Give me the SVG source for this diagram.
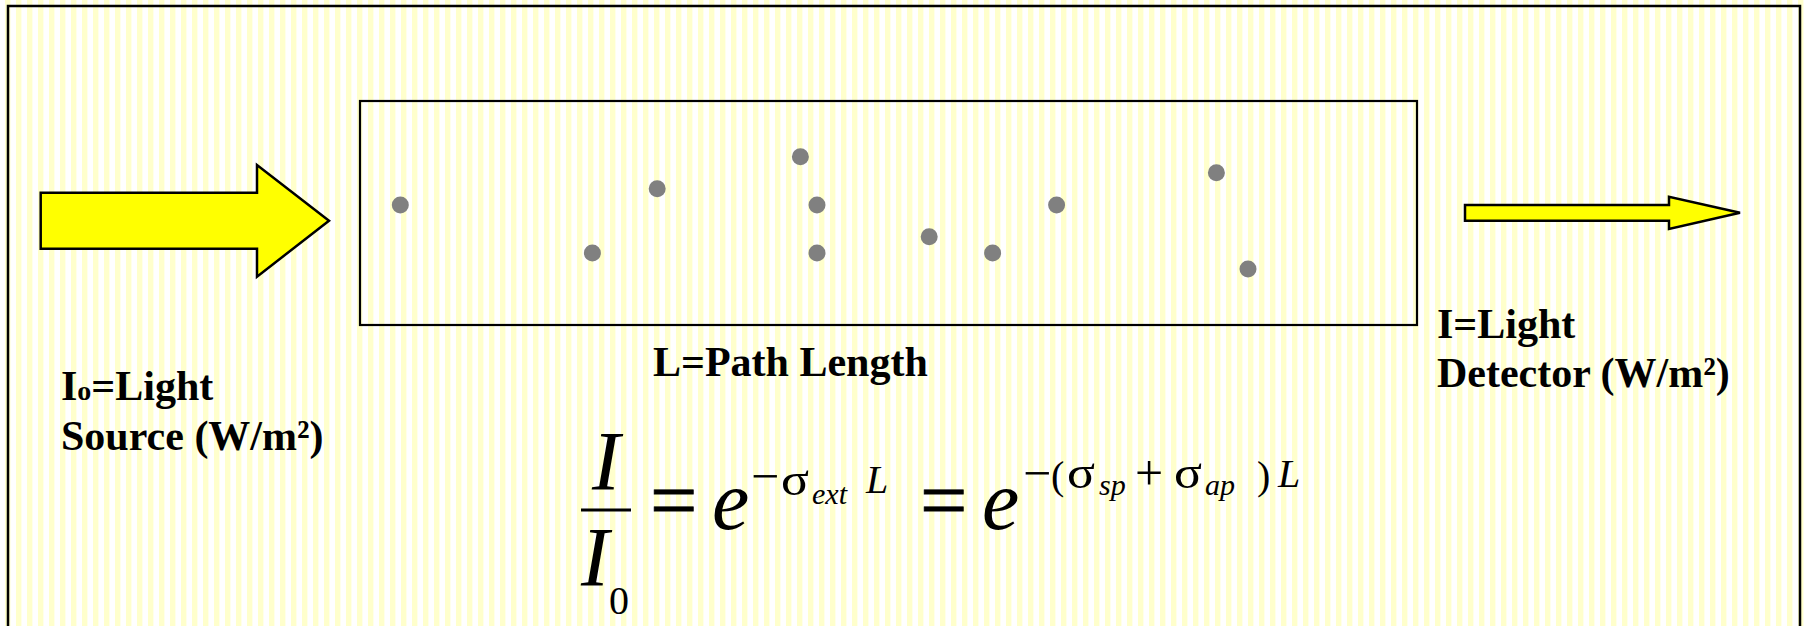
<svg xmlns="http://www.w3.org/2000/svg" width="1804" height="626" viewBox="0 0 1804 626">
<style>
.lbl{font-weight:bold;font-size:42px;fill:#000}
.m{fill:#000}
.it{font-style:italic}
.big{font-size:84px}
.eq{stroke:#000;stroke-width:0.8}
.sup{font-size:40px}
.minus{font-size:50px}
.sig{font-size:46px}
.sub{font-size:30px}
.arrow{fill:#FFFF00;stroke:#000;stroke-width:2.5;stroke-linejoin:miter}
.dot{fill:#808080}
</style>
<defs>
<pattern id="stripes" x="5" y="0" width="11" height="10" patternUnits="userSpaceOnUse">
<rect x="0" y="0" width="5.4" height="10" fill="#FFFFCC"/>
</pattern>
</defs>
<rect x="0" y="0" width="1804" height="626" fill="#FFFFFF"/>
<rect x="0" y="0" width="1804" height="626" fill="url(#stripes)"/>
<rect id="frame" x="8" y="6" width="1792" height="640" fill="none" stroke="#000" stroke-width="2.5"/>
<g id="connectors">
<polygon class="arrow" points="40.7,192.7 257,192.7 257,165 329,220.7 257,276.7 257,248.7 40.7,248.7"/>
<polygon class="arrow" points="1465,205 1669,205 1669,196.7 1740,212.7 1669,229 1669,220.7 1465,220.7"/>
</g>
<g font-family="Liberation Serif, Times New Roman, serif">
<g id="cell">
<rect x="360" y="101" width="1057" height="224" fill="none" stroke="#000" stroke-width="2.2"/>
<circle class="dot" cx="400.3" cy="205" r="8.5"/>
<circle class="dot" cx="592.4" cy="253" r="8.5"/>
<circle class="dot" cx="657.2" cy="188.7" r="8.5"/>
<circle class="dot" cx="800.4" cy="156.7" r="8.5"/>
<circle class="dot" cx="817" cy="205" r="8.5"/>
<circle class="dot" cx="817" cy="253" r="8.5"/>
<circle class="dot" cx="929.2" cy="236.7" r="8.5"/>
<circle class="dot" cx="992.6" cy="253" r="8.5"/>
<circle class="dot" cx="1056.6" cy="205" r="8.5"/>
<circle class="dot" cx="1216.4" cy="172.7" r="8.5"/>
<circle class="dot" cx="1248" cy="269" r="8.5"/>
<text class="lbl" x="653" y="376">L=Path Length</text>
</g>
<g id="source">
<text class="lbl" x="61" y="400">I<tspan font-size="28">o</tspan>=Light</text>
<text class="lbl" x="61" y="450">Source (W/m²)</text>
</g>
<g id="detector">
<text class="lbl" x="1437" y="338">I=Light</text>
<text class="lbl" x="1437" y="387">Detector (W/m²)</text>
</g>
<g id="equation">
<text class="m it big" x="592" y="490">I</text>
<line x1="581" y1="510" x2="631" y2="510" stroke="#000" stroke-width="3"/>
<text class="m it big" x="581" y="586">I</text>
<text class="m sup" x="609" y="614">0</text>
<text class="m big eq" x="650" y="529">=</text>
<text class="m it big" x="712" y="529">e</text>
<text class="m minus" x="751" y="492.5">−</text>
<text class="m sig" x="781" y="495" textLength="28" lengthAdjust="spacingAndGlyphs">σ</text>
<text class="m it sub" x="812" y="504">ext</text>
<text class="m it sup" x="866" y="493">L</text>
<text class="m big eq" x="920" y="529">=</text>
<text class="m it big" x="982" y="529">e</text>
<text class="m minus" x="1023" y="489.5">−</text>
<text class="m sup" x="1051" y="489">(</text>
<text class="m sig" x="1067" y="488" textLength="28" lengthAdjust="spacingAndGlyphs">σ</text>
<text class="m it sub" x="1099" y="495">sp</text>
<text class="m" font-size="50" x="1135" y="490">+</text>
<text class="m sig" x="1174" y="488" textLength="28" lengthAdjust="spacingAndGlyphs">σ</text>
<text class="m it sub" x="1205" y="495">ap</text>
<text class="m sup" x="1257" y="489">)</text>
<text class="m it sup" x="1278" y="487">L</text>
</g>
</g>
</svg>
